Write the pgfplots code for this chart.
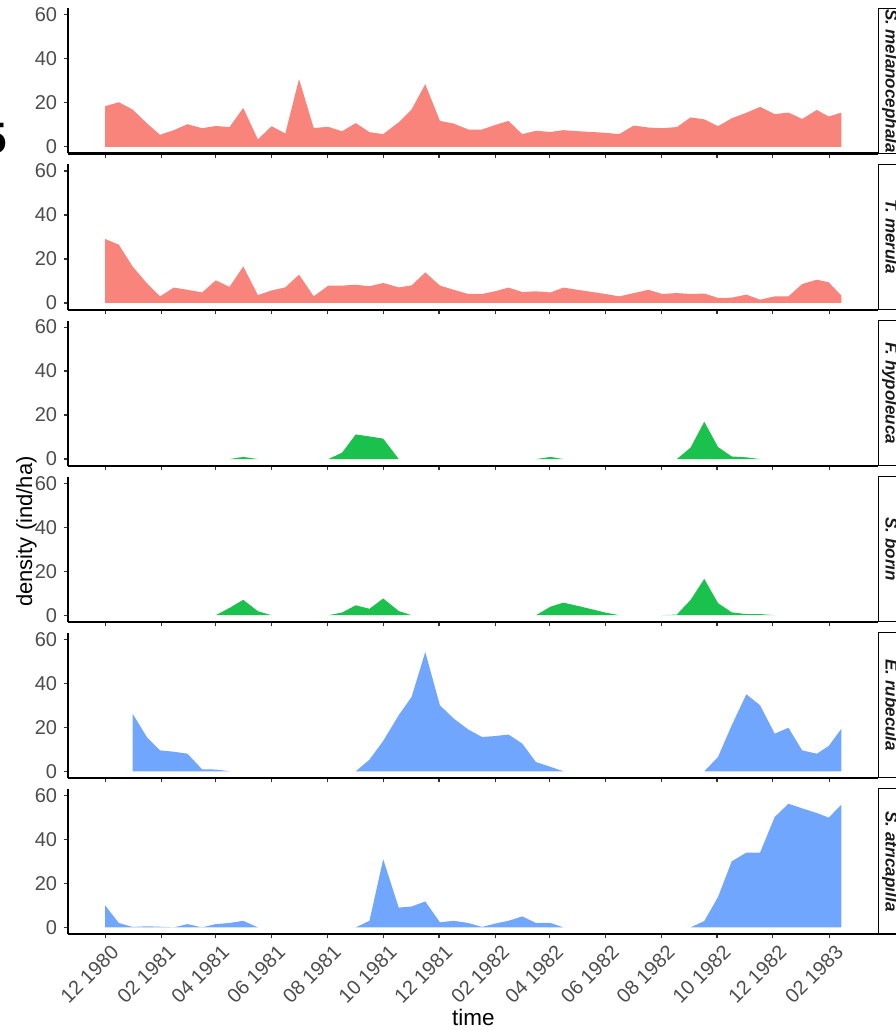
\documentclass[border=0pt]{standalone}
\usepackage{pgfplots}
\pgfplotsset{compat=1.18}
\usepackage{fontspec}
\setmainfont{Liberation Sans}
\definecolor{cred}{HTML}{F9847C}
\definecolor{cgreen}{HTML}{1AC14C}
\definecolor{cblue}{HTML}{71A6FF}
\definecolor{tickgray}{HTML}{4D4D4D}
\definecolor{stripgray}{HTML}{1A1A1A}
\pgfplotsset{
  panel/.style={
    scale only axis, width=810bp, height=145.2bp,
    xmin=-40.25, xmax=845.25, ymin=-3, ymax=63,
    axis x line*=bottom, axis y line*=left,
    axis line style={line width=2.1bp, black},
    tick align=outside, major tick length=4.5bp,
    tick style={line width=1.2bp, color=black!80},
    xtick={0,62,121,182,243,304,365,427,486,547,608,669,730,792},
    ytick={0,20,40,60},
    yticklabels={0,20,40,60},
    xticklabels={},
    yticklabel style={font=\fontsize{20bp}{22bp}\selectfont, text=tickgray, anchor=east, inner sep=0pt, xshift=-6.5bp},
    clip=false,
    anchor=south west,
  },
}
\begin{document}
\begin{tikzpicture}
% Panel 1: S. melanocephala
\begin{axis}[panel, at={(68.3bp,876.5bp)}]
\addplot[fill=cred, draw=none] coordinates {
(0,0) (0,18.5) (15,20.3) (30,17) (46,10.6) (60,5.5) (75,7.6) (90,10.3) (106,8.5) (121,9.5) (136,9) (151,17.7) (167,3.4) (182,9.4) (197,6.1) (212,30.8) (228,8.6) (244,9.1) (259,7.1) (274,10.8) (289,6.7) (304,5.8) (321,11.2) (335,17) (350,28.5) (366,11.8) (381,10.6) (397,7.9) (412,7.9) (426,9.9) (441,11.8) (456,5.8) (471,7.3) (487,6.8) (501,7.6) (518,7.1) (547,6.4) (562,5.8) (578,9.7) (594,8.8) (609,8.5) (625,9) (640,13.4) (655,12.5) (670,9.4) (685,13) (701,15.5) (716,18.2) (732,14.9) (747,15.6) (762,12.7) (778,16.8) (791,13.8) (805,15.6) (805,0)
} -- cycle;
\end{axis}
% Panel 2: T. merula
\begin{axis}[panel, at={(68.3bp,720.4bp)}]
\addplot[fill=cred, draw=none] coordinates {
(0,0) (0,29.1) (15,26.5) (30,16.6) (46,8.8) (60,3) (75,7) (90,6) (106,4.8) (121,10.3) (136,7.3) (151,16.6) (167,3.6) (182,5.7) (197,7.1) (212,12.9) (228,3) (244,7.9) (259,7.9) (274,8.3) (289,7.6) (304,9.1) (321,7.1) (335,8) (350,13.9) (366,7.9) (381,6) (397,4.1) (412,4.1) (426,5.3) (441,7) (456,5) (471,5.3) (487,4.8) (501,7) (518,5.9) (547,4.1) (562,3) (578,4.5) (594,6) (609,4.1) (625,4.5) (640,4.1) (655,4.3) (670,2.3) (685,2.4) (701,3.8) (716,1.5) (732,3) (747,3) (762,8.6) (778,10.6) (791,9.4) (805,3.3) (805,0)
} -- cycle;
\end{axis}
% Panel 3: F. hypoleuca
\begin{axis}[panel, at={(68.3bp,564.3bp)}]
\addplot[fill=cgreen, draw=none] coordinates {(136,0) (151,1) (167,0)} -- cycle;
\addplot[fill=cgreen, draw=none] coordinates {(244,0) (259,2.9) (274,11.2) (289,10.3) (304,9.3) (321,0)} -- cycle;
\addplot[fill=cgreen, draw=none] coordinates {(471,0) (487,1) (501,0)} -- cycle;
\addplot[fill=cgreen, draw=none] coordinates {(625,0) (640,5.2) (655,17) (670,5.5) (685,1.2) (701,0.8) (716,0)} -- cycle;
\end{axis}
% Panel 4: S. borin
\begin{axis}[panel, at={(68.3bp,408.2bp)}]
\addplot[fill=cgreen, draw=none] coordinates {(121,0) (136,3.3) (151,7) (167,1.8) (182,0)} -- cycle;
\addplot[fill=cgreen, draw=none] coordinates {(244,0) (259,1.2) (274,4.5) (289,2.9) (304,7.6) (321,1.9) (335,0)} -- cycle;
\addplot[fill=cgreen, draw=none] coordinates {(471,0) (487,3.9) (501,5.7) (518,4.1) (547,1.2) (562,0)} -- cycle;
\addplot[fill=cgreen, draw=none] coordinates {(609,0) (625,0.3) (640,6.9) (655,16.5) (670,5.5) (685,1.3) (701,0.5) (716,0.5) (732,0)} -- cycle;
\end{axis}
% Panel 5: E. rubecula
\begin{axis}[panel, at={(68.3bp,252.1bp)}]
\addplot[fill=cblue, draw=none] coordinates {(30,0) (30,26.2) (46,15.3) (60,9.5) (75,8.9) (90,8) (106,0.9) (121,0.8) (136,0)} -- cycle;
\addplot[fill=cblue, draw=none] coordinates {(274,0) (289,5.3) (304,13.8) (321,25.5) (335,33.8) (350,54.2) (366,30) (381,24) (397,19) (412,15.6) (426,16) (441,16.7) (456,12.6) (471,4.2) (487,2) (501,0)} -- cycle;
\addplot[fill=cblue, draw=none] coordinates {(655,0) (670,6.5) (685,20.9) (701,35) (716,30) (732,17.1) (747,19.8) (762,9.5) (778,8) (791,11.5) (805,19.4) (805,0)} -- cycle;
\end{axis}
% Panel 6: S. atricapilla
\begin{axis}[panel, at={(68.3bp,96bp)},
  xticklabels={{12 1980},{02 1981},{04 1981},{06 1981},{08 1981},{10 1981},{12 1981},{02 1982},{04 1982},{06 1982},{08 1982},{10 1982},{12 1982},{02 1983}},
  xticklabel style={rotate=45, anchor=north east, inner sep=0pt, yshift=-7bp, font=\fontsize{20bp}{22bp}\selectfont, text=tickgray},
]
\addplot[fill=cblue, draw=none] coordinates {(0,0) (0,10) (15,2) (30,0.2) (46,0.5) (60,0.3) (75,0) (90,1.5) (106,0) (121,1.5) (136,2) (151,3) (167,0)} -- cycle;
\addplot[fill=cblue, draw=none] coordinates {(274,0) (289,3) (304,31) (321,9) (335,9.5) (350,11.8) (366,2.3) (381,3) (397,2) (412,0.2) (426,1.7) (441,3) (456,5) (471,2) (487,2) (501,0)} -- cycle;
\addplot[fill=cblue, draw=none] coordinates {(640,0) (655,2.9) (670,13.8) (685,30) (701,34) (716,34) (732,50.2) (747,56.2) (762,54.1) (778,52) (791,49.9) (805,55.8) (805,0)} -- cycle;
\end{axis}
% strips
\begin{scope}[line width=1.2bp]
\draw (878.3bp,876.5bp) rectangle (930bp,1021.7bp);
\draw (878.3bp,720.4bp) rectangle (930bp,865.6bp);
\draw (878.3bp,564.3bp) rectangle (930bp,709.5bp);
\draw (878.3bp,408.2bp) rectangle (930bp,553.4bp);
\draw (878.3bp,252.1bp) rectangle (930bp,397.3bp);
\draw (878.3bp,96bp) rectangle (930bp,241.2bp);
\end{scope}
\tikzset{strip/.style={rotate=-90, anchor=base, inner sep=0pt, text=stripgray, font=\fontsize{17bp}{20bp}\selectfont\bfseries\itshape}}
\node[strip] at (885.5bp,949.1bp) {S. melanocephala};
\node[strip] at (885.5bp,793.0bp) {T. merula};
\node[strip] at (885.5bp,636.9bp) {F. hypoleuca};
\node[strip] at (885.5bp,480.8bp) {S. borin};
\node[strip] at (885.5bp,324.7bp) {E. rubecula};
\node[strip] at (885.5bp,168.6bp) {S. atricapilla};
% axis titles
\node[rotate=90, font=\fontsize{22bp}{24bp}\selectfont] at (26.5bp,498.5bp) {density (ind/ha)};
\node[anchor=base, inner sep=0pt, font=\fontsize{22.5bp}{24bp}\selectfont] at (473.3bp,5bp) {time};
% fragment at left edge
\node[anchor=base east, inner sep=0pt, font=\fontsize{44bp}{44bp}\selectfont\bfseries] at (7.5bp,876bp) {5};
\pgfresetboundingbox
\useasboundingbox (0,0) rectangle (896bp,1030bp);
\end{tikzpicture}
\end{document}
